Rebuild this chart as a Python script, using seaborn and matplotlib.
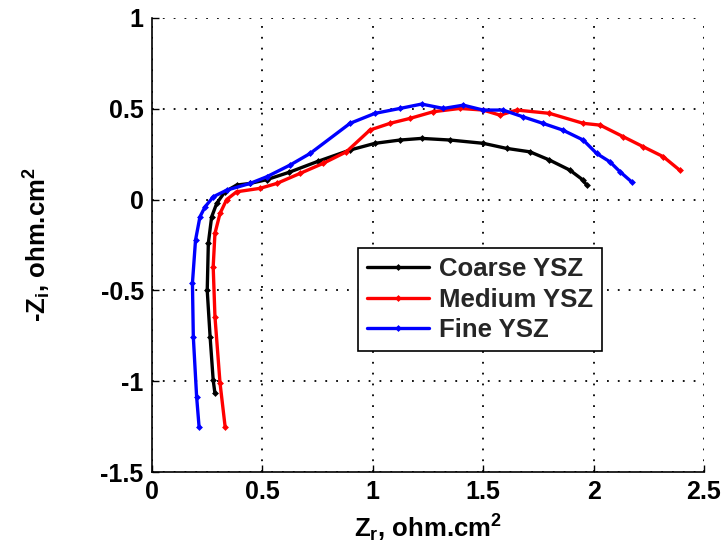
import numpy as np
import pandas as pd
import matplotlib
matplotlib.use("Agg")
import matplotlib.pyplot as plt
import seaborn as sns

# ---- data ----
coarse_x = [0.285, 0.277, 0.263, 0.250, 0.255, 0.270, 0.293, 0.330, 0.383, 0.444,
            0.52, 0.62, 0.75, 0.897, 1.01, 1.123, 1.221, 1.35, 1.50, 1.606,
            1.712, 1.80, 1.893, 1.953, 1.968]
coarse_y = [-1.067, -0.994, -0.755, -0.50, -0.241, -0.095, -0.021, 0.043, 0.080, 0.089,
            0.11, 0.15, 0.21, 0.273, 0.31, 0.328, 0.337, 0.328, 0.31, 0.282,
            0.263, 0.218, 0.162, 0.107, 0.08]

medium_x = [0.331, 0.308, 0.285, 0.277, 0.285, 0.308, 0.338, 0.383, 0.489, 0.565,
            0.67, 0.776, 0.88, 0.987, 1.078, 1.168, 1.274, 1.395, 1.50, 1.576,
            1.652, 1.80, 1.953, 2.03, 2.135, 2.225, 2.316, 2.39]
medium_y = [-1.25, -1.01, -0.645, -0.37, -0.186, -0.076, 0.0, 0.043, 0.062, 0.089,
            0.144, 0.20, 0.263, 0.383, 0.42, 0.447, 0.484, 0.502, 0.493, 0.465,
            0.493, 0.475, 0.42, 0.41, 0.346, 0.291, 0.236, 0.162]

fine_x = [0.213, 0.202, 0.187, 0.183, 0.197, 0.217, 0.24, 0.278, 0.338, 0.444,
          0.52, 0.625, 0.716, 0.897, 1.01, 1.123, 1.221, 1.32, 1.41, 1.50,
          1.59, 1.68, 1.77, 1.86, 1.953, 2.014, 2.074, 2.12, 2.172]
fine_y = [-1.25, -1.086, -0.756, -0.46, -0.223, -0.095, -0.04, 0.016, 0.052, 0.089,
          0.126, 0.19, 0.254, 0.42, 0.475, 0.502, 0.526, 0.502, 0.52, 0.493,
          0.493, 0.456, 0.42, 0.383, 0.328, 0.254, 0.208, 0.153, 0.098]

series_names = ["Coarse YSZ", "Medium YSZ", "Fine YSZ"]
series_colors = ["#000000", "#FF0000", "#0000FF"]

x_ticks = [0, 0.5, 1, 1.5, 2, 2.5]
x_ticklabels = ["0", "0.5", "1", "1.5", "2", "2.5"]
y_ticks = [-1.5, -1, -0.5, 0, 0.5, 1]
y_ticklabels = ["-1.5", "-1", "-0.5", "0", "0.5", "1"]

frames = []
for name, xs, ys in zip(series_names, [coarse_x, medium_x, fine_x], [coarse_y, medium_y, fine_y]):
    frames.append(pd.DataFrame({"Zr": xs, "Zi": ys, "Sample": name}))
df = pd.concat(frames, ignore_index=True)

# ---- style ----
sns.set_theme(style="white")
plt.rcParams["font.family"] = ["Liberation Sans", "DejaVu Sans"]
plt.rcParams["font.weight"] = "bold"
plt.rcParams["mathtext.fontset"] = "custom"
plt.rcParams["mathtext.rm"] = "Liberation Sans:bold"
plt.rcParams["mathtext.it"] = "Liberation Sans:bold"
plt.rcParams["mathtext.bf"] = "Liberation Sans:bold"

fig, ax = plt.subplots(figsize=(7.25, 5.52), dpi=100)
fig.subplots_adjust(left=0.2097, right=0.971, bottom=0.1449, top=0.9674)

sns.lineplot(data=df, x="Zr", y="Zi", hue="Sample", hue_order=series_names,
             palette=series_colors, sort=False, estimator=None,
             marker="D", markersize=3.5, markeredgewidth=0, linewidth=2.4, ax=ax)

ax.set_xlim(0, 2.5)
ax.set_ylim(-1.5, 1)
ax.set_xticks(x_ticks)
ax.set_xticklabels(x_ticklabels)
ax.set_yticks(y_ticks)
ax.set_yticklabels(y_ticklabels)

ax.grid(True, color="black", linestyle=(0, (1, 5)), linewidth=1.3)
ax.tick_params(axis="both", direction="in", length=5, width=1, labelsize=18, colors="black",
               left=True, bottom=True, top=False, right=False, pad=6)
for lbl in ax.get_xticklabels() + ax.get_yticklabels():
    lbl.set_fontweight("bold")

for side in ["top", "right"]:
    ax.spines[side].set_visible(False)
for side in ["left", "bottom"]:
    ax.spines[side].set_color("black")
    ax.spines[side].set_linewidth(1.2)

ax.set_xlabel(r"Z$_{\mathrm{r}}$, ohm.cm$^{\mathrm{2}}$", fontsize=18.5, fontweight="bold", color="black", labelpad=6)
ax.set_ylabel(r"-Z$_{\mathrm{i}}$, ohm.cm$^{\mathrm{2}}$", fontsize=18.5, fontweight="bold", color="black", labelpad=34)

leg = ax.legend(loc="upper left", bbox_to_anchor=(0.373, 0.493), fontsize=18.5,
                frameon=True, fancybox=False, edgecolor="black", framealpha=1,
                handlelength=2.4, handletextpad=0.4, borderpad=0.35, labelspacing=0.25,
                borderaxespad=0)
leg.get_frame().set_linewidth(1.2)
for t in leg.get_texts():
    t.set_fontweight("bold")

fig.savefig("out.png", dpi=100)
